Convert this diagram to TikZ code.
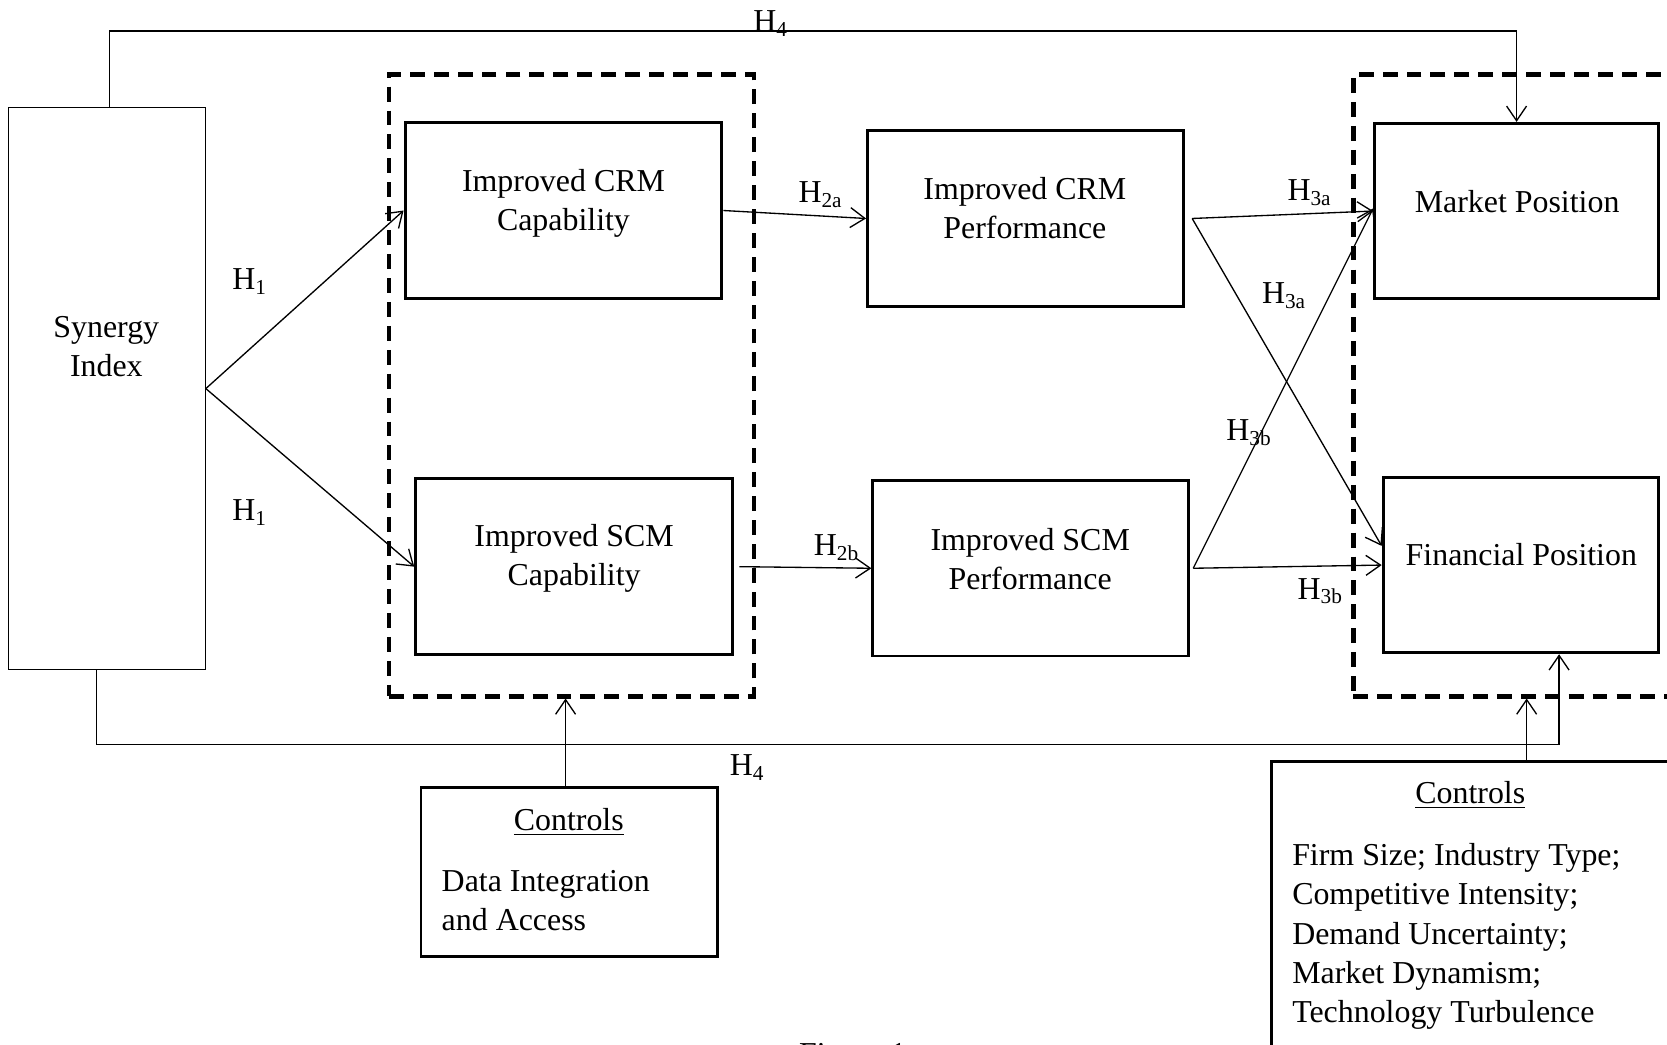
\documentclass[tikz,border=0pt]{standalone}
\usepackage{fontspec}
\setmainfont{Liberation Serif}
\usetikzlibrary{arrows.meta}

\begin{document}
\begin{tikzpicture}[x=0.4pt,y=-0.4pt,
    font=\fontsize{12pt}{14.8pt}\selectfont,
    box/.style={draw,line width=1.1pt,inner sep=0pt},
    grp/.style={draw,line width=1.6pt,dash pattern=on 5.6pt off 3.4pt,inner sep=0pt},
    conn/.style={line width=0.5pt,-{Straight Barb[length=5.5pt,width=7.5pt]}},
    txt/.style={align=center,inner sep=0pt},
    hyp/.style={inner sep=0pt}]
    \useasboundingbox (0,0) rectangle (1568,982);

    \node[box,line width=0.5pt,minimum width=74pt,minimum height=211.6pt] (synergy) at (100.5,365.5) {};
    \node[grp,minimum width=137.2pt,minimum height=234pt] (capgrp) at (537.5,362.5) {};
    \node[grp,minimum width=138.8pt,minimum height=234pt] (posgrp) at (1446.5,362.5) {};
    \node[box,minimum width=119.2pt,minimum height=66.4pt] (crmcap) at (530,198) {};
    \node[box,minimum width=119.2pt,minimum height=66.4pt] (scmcap) at (540,533) {};
    \node[box,minimum width=118.8pt,minimum height=66pt] (crmperf) at (964.5,205.5) {};
    \node[box,minimum width=118.8pt,minimum height=66pt] (scmperf) at (969.5,534.5) {};
    \node[box,minimum width=106.8pt,minimum height=66pt] (market) at (1426.5,198.5) {};
    \node[box,minimum width=103.6pt,minimum height=66pt] (financial) at (1430.5,531.5) {};
    \node[box,minimum width=111.6pt,minimum height=63.6pt] (ctrla) at (535.5,820.5) {};
    \node[box,minimum width=169.6pt,minimum height=133.6pt] (ctrlb) at (1408,883) {};

    \node[txt] (synergytxt) at (100,326) {Synergy\\Index};
    \node[txt] (crmcaptxt) at (530,191) {Improved CRM\\Capability};
    \node[txt] (scmcaptxt) at (540,525) {Improved SCM\\Capability};
    \node[txt] (crmperftxt) at (964,196) {Improved CRM\\Performance};
    \node[txt] (scmperftxt) at (969,526) {Improved SCM\\Performance};
    \node[txt] (markettxt) at (1427,190) {Market Position};
    \node[txt] (financialtxt) at (1431,522) {Financial Position};
    \node[txt] (ctrlahead) at (535,773) {\underline{Controls}};
    \node[txt,align=left,anchor=west] (ctrlalist) at (415,847) {Data Integration\\and Access};
    \node[txt] (ctrlbhead) at (1383,748) {\underline{Controls}};
    \node[txt,align=left,anchor=west] (ctrlblist) at (1215,881) {Firm Size; Industry Type;\\Competitive Intensity;\\Demand Uncertainty;\\Market Dynamism;\\Technology Turbulence};
    \node[anchor=base] (figcap) at (802,1001) {Figure 1};

    \draw[conn] (synergy.east) -- (crmcap.west);
    \draw[conn] (synergy.east) -- (scmcap.west);
    \draw[conn] (crmcap.east) -- (crmperf.west);
    \draw[conn] ([xshift=2pt]scmcap.east) -- (scmperf.west);
    \draw[conn] ([xshift=2.8pt]crmperf.east) -- (market.west);
    \draw[conn] ([xshift=2.8pt]crmperf.east) -- ([yshift=7.2pt]financial.west);
    \draw[conn] ([xshift=1.2pt]scmperf.east) -- ([yshift=1pt]market.west);
    \draw[conn] ([xshift=1.2pt]scmperf.east) -- (financial.west);

    \coordinate (h4top) at (0,29);
    \coordinate (h4bot) at (0,700);
    \coordinate (finin) at ([xshift=14.4pt]financial.south);
    \draw[conn] ([xshift=1pt]synergy.north) |- (h4top -| market.north) -- (market.north);
    \draw[conn] ([xshift=-4pt]synergy.south) |- (h4bot -| finin) -- (finin);
    \draw[conn] ([xshift=-1.4pt]ctrla.north) -- ([xshift=-1.4pt]ctrla.north |- capgrp.south);
    \draw[conn] ([xshift=11.2pt]ctrlb.north) -- ([xshift=11.2pt]ctrlb.north |- posgrp.south);

    \node[hyp] (h1a) at (235,265) {H\textsubscript{1}};
    \node[hyp] (h1b) at (235,482) {H\textsubscript{1}};
    \node[hyp] (h2a) at (772,183) {H\textsubscript{2a}};
    \node[hyp] (h2b) at (787,515) {H\textsubscript{2b}};
    \node[hyp] (h3a) at (1232,181) {H\textsubscript{3a}};
    \node[hyp] (h3ax) at (1208,278) {H\textsubscript{3a}};
    \node[hyp] (h3bx) at (1175,407) {H\textsubscript{3b}};
    \node[hyp] (h3b) at (1242,556) {H\textsubscript{3b}};
    \node[hyp] (h4a) at (725,22) {H\textsubscript{4}};
    \node[hyp] (h4b) at (703,722) {H\textsubscript{4}};
\end{tikzpicture}
\end{document}
